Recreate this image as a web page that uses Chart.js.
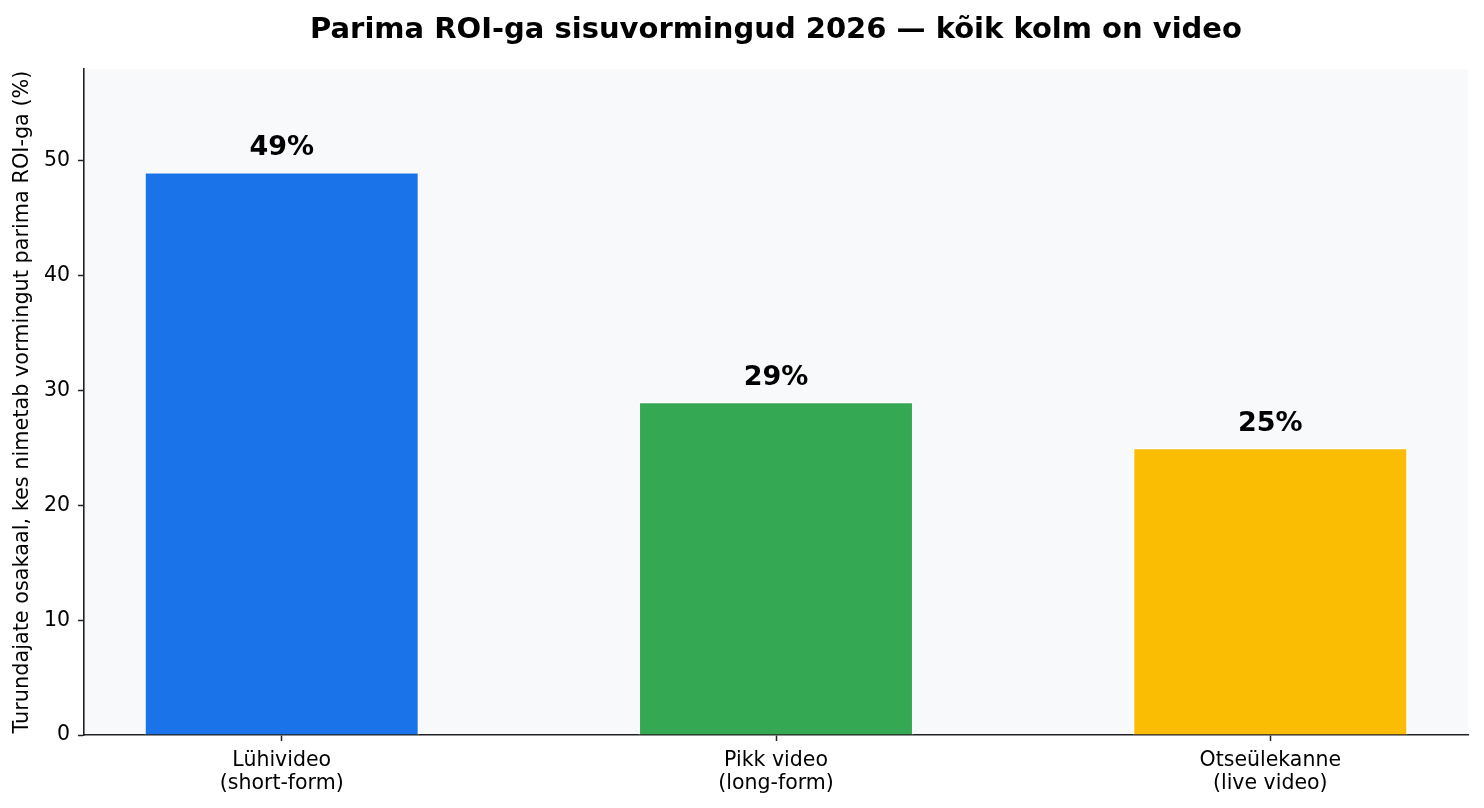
<!DOCTYPE html>
<html>
<head>
<meta charset="utf-8">
<script src="https://cdn.jsdelivr.net/npm/chart.js@4/dist/chart.umd.min.js"></script>
<style>
  html,body{margin:0;padding:0;background:#fff;}
  #wrap{width:1484px;height:808px;position:relative;}
</style>
</head>
<body>
<div id="wrap"><canvas id="grafico" width="1484" height="808"></canvas></div>
<script>
// ================= datos =================
const categorias = ["Lühivideo\n(short-form)", "Pikk video\n(long-form)", "Otseülekanne\n(live video)"];
const osakaal    = [49, 29, 25];
const colores    = ["#1a73e8", "#34a853", "#fbbc04"];
const yTicks     = [0, 10, 20, 30, 40, 50];
const titulo     = "Parima ROI-ga sisuvormingud 2026 — kõik kolm on video";
const yTitulo    = "Turundajate osakaal, kes nimetab vormingut parima ROI-ga (%)";

const FUENTE = "'DejaVu Sans', sans-serif";

// fondo del area del grafico
const pluginFondo = {
  id: 'fondo',
  beforeDraw(chart){
    const {ctx, chartArea:a} = chart;
    ctx.save();
    ctx.fillStyle = '#f8f9fb';
    ctx.fillRect(a.left, a.top, a.right - a.left, a.bottom - a.top);
    ctx.restore();
  }
};

// titulo centrado sobre el area del grafico
const pluginTitulo = {
  id: 'tituloArea',
  afterDraw(chart){
    const {ctx, chartArea:a} = chart;
    ctx.save();
    ctx.fillStyle = '#000';
    ctx.font = "bold 29px " + FUENTE;
    ctx.textAlign = 'center';
    ctx.textBaseline = 'alphabetic';
    ctx.fillText(titulo, (a.left + a.right)/2, 38);
    ctx.restore();
  }
};

// etiquetas de valor sobre las barras
const pluginValores = {
  id: 'valores',
  afterDatasetsDraw(chart){
    const {ctx} = chart;
    const meta = chart.getDatasetMeta(0);
    ctx.save();
    ctx.fillStyle = '#000';
    ctx.font = "bold 27px " + FUENTE;
    ctx.textAlign = 'center';
    ctx.textBaseline = 'alphabetic';
    meta.data.forEach(function(bar, i){
      ctx.fillText(osakaal[i] + '%', bar.x, bar.y - 17);
    });
    ctx.restore();
  }
};

let ctxGraf = document.getElementById('grafico').getContext('2d');
let miChart = new Chart(ctxGraf, {
  type: 'bar',
  data: {
    datasets: [{
      data: osakaal.map((v, i) => ({x: i, y: v})),
      backgroundColor: colores,
      borderColor: '#ffffff',
      borderWidth: 1.2,
      categoryPercentage: 1,
      barPercentage: 0.555
    }]
  },
  options: {
    responsive: false,
    animation: false,
    devicePixelRatio: 1,
    layout: { padding: { top: 69, right: 16, bottom: 0, left: 0 } },
    plugins: {
      legend: { display: false },
      tooltip: { enabled: false }
    },
    scales: {
      x: {
        type: 'linear',
        min: -0.4,
        max: 2.4,
        offset: false,
        afterBuildTicks: function(scale){
          scale.ticks = categorias.map((c, i) => ({value: i}));
        },
        afterFit: function(scale){ scale.height = 73; },
        ticks: {
          color: '#000',
          font: { family: FUENTE, size: 20.5, lineHeight: 1.13 },
          padding: 8,
          maxRotation: 0,
          autoSkip: false,
          callback: function(v){ return categorias[v] ? categorias[v].split('\n') : ''; }
        },
        grid: { offset: false, drawOnChartArea: false, tickLength: 6, tickColor: '#222', tickWidth: 1.5 },
        border: { color: '#222', width: 1.6 }
      },
      y: {
        min: 0,
        max: 58,
        afterBuildTicks: function(scale){
          scale.ticks = yTicks.map(v => ({value: v}));
        },
        afterFit: function(scale){ scale.width = 84; },
        ticks: {
          color: '#000',
          font: { family: FUENTE, size: 20.5 },
          padding: 8
        },
        title: {
          display: true,
          text: yTitulo,
          color: '#000',
          font: { family: FUENTE, size: 20.8 },
          padding: { top: 10, bottom: 0 }
        },
        grid: { drawOnChartArea: false, tickLength: 6, tickColor: '#222', tickWidth: 1.5 },
        border: { color: '#222', width: 1.6 }
      }
    }
  },
  plugins: [pluginFondo, pluginTitulo, pluginValores]
});
</script>
</body>
</html>
